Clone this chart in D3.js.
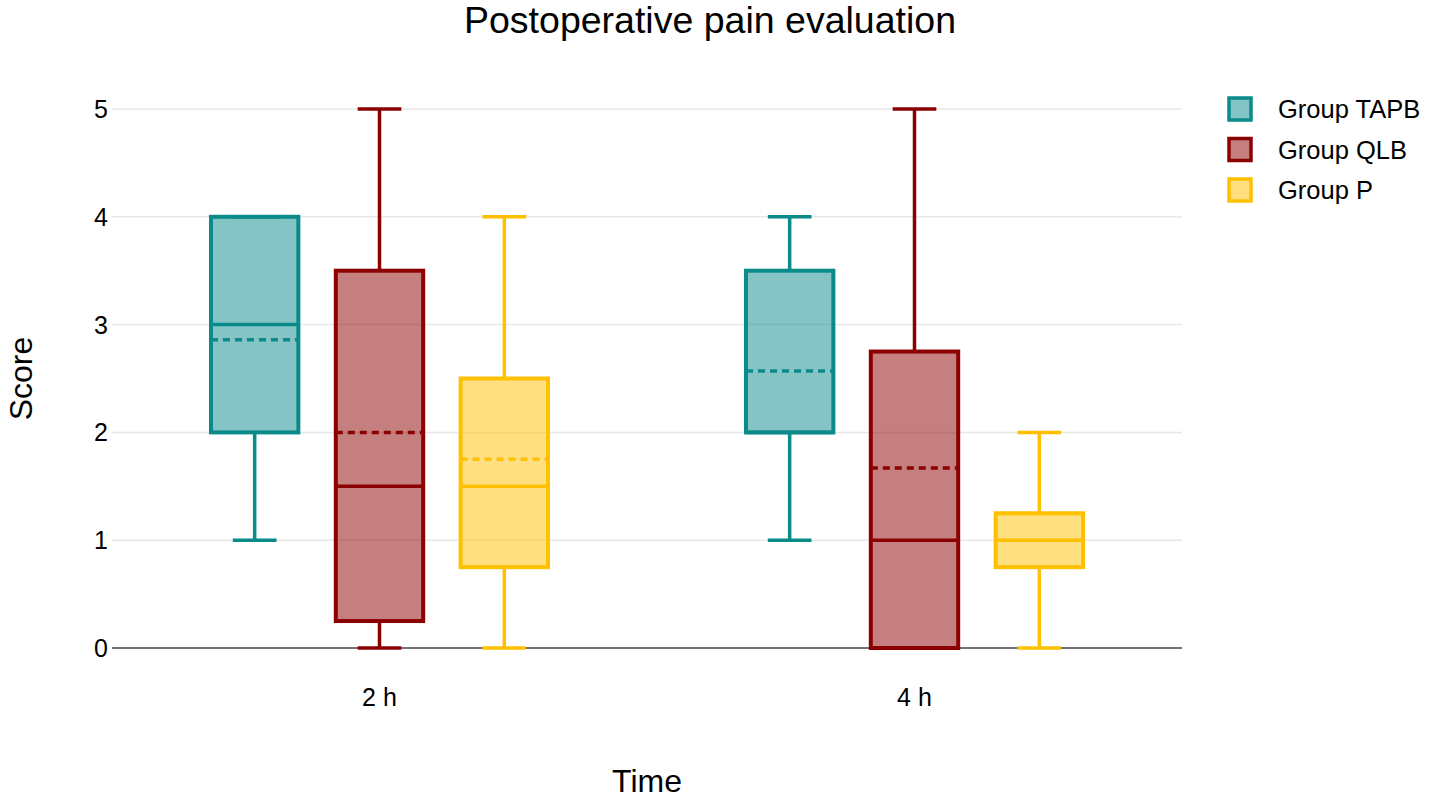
<!DOCTYPE html>
<html>
<head>
<meta charset="utf-8">
<script src="https://cdn.jsdelivr.net/npm/d3@7"></script>
<style>
  body { margin: 0; background: #fff; }
  text { font-family: "Liberation Sans", Arial, sans-serif; fill: #000; }
</style>
</head>
<body>
<div id="chart"></div>
<script>
// Box summaries, one array per group, one entry per time point.
var times = ["2 h", "4 h"];
var groups = ["Group TAPB", "Group QLB", "Group P"];
var colors = ["#0b8a8a", "#8b0000", "#ffc000"];
var yTicks = [0, 1, 2, 3, 4, 5];

var tapbMin = [1, 1], tapbQ1 = [2, 2], tapbMed = [3, 2], tapbQ3 = [4, 3.5], tapbMax = [4, 4], tapbMean = [2.86, 2.57];
var qlbMin = [0, 0], qlbQ1 = [0.25, 0], qlbMed = [1.5, 1], qlbQ3 = [3.5, 2.75], qlbMax = [5, 5], qlbMean = [2.0, 1.67];
var pMin = [0, 0], pQ1 = [0.75, 0.75], pMed = [1.5, 1], pQ3 = [2.5, 1.25], pMax = [4, 2], pMean = [1.75, 1.0];

var series = [
    [tapbMin, tapbQ1, tapbMed, tapbQ3, tapbMax, tapbMean],
    [qlbMin, qlbQ1, qlbMed, qlbQ3, qlbMax, qlbMean],
    [pMin, pQ1, pMed, pQ3, pMax, pMean]
];

var W = 1429, H = 799;
var margin = {left: 112, right: 247, top: 109, bottom: 151};

var svg = d3.select("#chart").append("svg")
    .attr("width", W)
    .attr("height", H);

var x = d3.scaleBand()
    .domain(times)
    .range([margin.left, W - margin.right]);

// slot for each group inside a time category (boxgap 0.3)
var xGroup = d3.scaleBand()
    .domain(groups)
    .range([x.bandwidth() * 0.15, x.bandwidth() * 0.85]);

var y = d3.scaleLinear()
    .domain([0, 5])
    .range([H - margin.bottom, margin.top]);

// gridlines
svg.append("g")
    .selectAll("line")
    .data(yTicks.filter(function(d){ return d > 0; }))
    .enter().append("line")
    .attr("x1", margin.left)
    .attr("x2", W - margin.right)
    .attr("y1", function(d){ return y(d); })
    .attr("y2", function(d){ return y(d); })
    .attr("stroke", "#e8e8e8")
    .attr("stroke-width", 1.5);

// y tick labels
svg.append("g")
    .selectAll("text")
    .data(yTicks)
    .enter().append("text")
    .attr("x", margin.left - 4)
    .attr("y", function(d){ return y(d); })
    .attr("dy", "0.36em")
    .attr("text-anchor", "end")
    .style("font-size", "25px")
    .text(function(d){ return d; });

// zero line
svg.append("line")
    .attr("x1", margin.left)
    .attr("x2", W - margin.right)
    .attr("y1", y(0))
    .attr("y2", y(0))
    .attr("stroke", "#444")
    .attr("stroke-width", 1.5);

// boxes
series.forEach(function(s, gi){
    var col = colors[gi];
    var g = svg.append("g").attr("class", "group" + gi);
    times.forEach(function(t, ti){
        var slotW = xGroup.bandwidth();
        var bw = slotW * 0.7;
        var cx = x(t) + xGroup(groups[gi]) + slotW / 2;
        var capW = bw / 2;
        var mn = s[0][ti], q1 = s[1][ti], md = s[2][ti], q3 = s[3][ti], mx = s[4][ti], mean = s[5][ti];

        // whiskers
        g.append("line")
            .attr("x1", cx).attr("x2", cx)
            .attr("y1", y(q3)).attr("y2", y(mx))
            .attr("stroke", col).attr("stroke-width", 3.5);
        g.append("line")
            .attr("x1", cx).attr("x2", cx)
            .attr("y1", y(q1)).attr("y2", y(mn))
            .attr("stroke", col).attr("stroke-width", 3.5);
        [mn, mx].forEach(function(v){
            g.append("line")
                .attr("x1", cx - capW / 2).attr("x2", cx + capW / 2)
                .attr("y1", y(v)).attr("y2", y(v))
                .attr("stroke", col).attr("stroke-width", 3.5);
        });

        // box
        g.append("rect")
            .attr("x", cx - bw / 2)
            .attr("y", y(q3))
            .attr("width", bw)
            .attr("height", y(q1) - y(q3))
            .attr("fill", col)
            .attr("fill-opacity", 0.5)
            .attr("stroke", col)
            .attr("stroke-width", 4);

        // median
        g.append("line")
            .attr("x1", cx - bw / 2).attr("x2", cx + bw / 2)
            .attr("y1", y(md)).attr("y2", y(md))
            .attr("stroke", col).attr("stroke-width", 3.5);

        // mean
        if (mean != md){
            g.append("line")
                .attr("x1", cx - bw / 2).attr("x2", cx + bw / 2)
                .attr("y1", y(mean)).attr("y2", y(mean))
                .attr("stroke", col).attr("stroke-width", 3.5)
                .attr("stroke-dasharray", "7,5");
        }
    });
});

// x tick labels
svg.append("g")
    .selectAll("text")
    .data(times)
    .enter().append("text")
    .attr("x", function(d){ return x(d) + x.bandwidth() / 2; })
    .attr("y", 697)
    .attr("dy", "0.36em")
    .attr("text-anchor", "middle")
    .style("font-size", "25px")
    .text(function(d){ return d; });

// titles
svg.append("text")
    .attr("x", 710)
    .attr("y", 33)
    .attr("text-anchor", "middle")
    .style("font-size", "37.5px")
    .text("Postoperative pain evaluation");

svg.append("text")
    .attr("x", (margin.left + W - margin.right) / 2)
    .attr("y", 792)
    .attr("text-anchor", "middle")
    .style("font-size", "32px")
    .text("Time");

svg.append("text")
    .attr("transform", "translate(32," + y(2.5) + ") rotate(-90)")
    .attr("text-anchor", "middle")
    .style("font-size", "32px")
    .text("Score");

// legend
var legend = svg.append("g")
    .selectAll("g")
    .data(groups)
    .enter().append("g")
    .attr("transform", function(d, i){ return "translate(1229," + (98 + i * 40.5) + ")"; });

legend.append("rect")
    .attr("width", 22).attr("height", 22)
    .attr("fill", function(d, i){ return colors[i]; })
    .attr("fill-opacity", 0.5)
    .attr("stroke", function(d, i){ return colors[i]; })
    .attr("stroke-width", 3.5);

legend.append("text")
    .attr("x", 49)
    .attr("y", 11)
    .attr("dy", "0.36em")
    .style("font-size", "25.5px")
    .text(function(d){ return d; });
</script>
</body>
</html>
